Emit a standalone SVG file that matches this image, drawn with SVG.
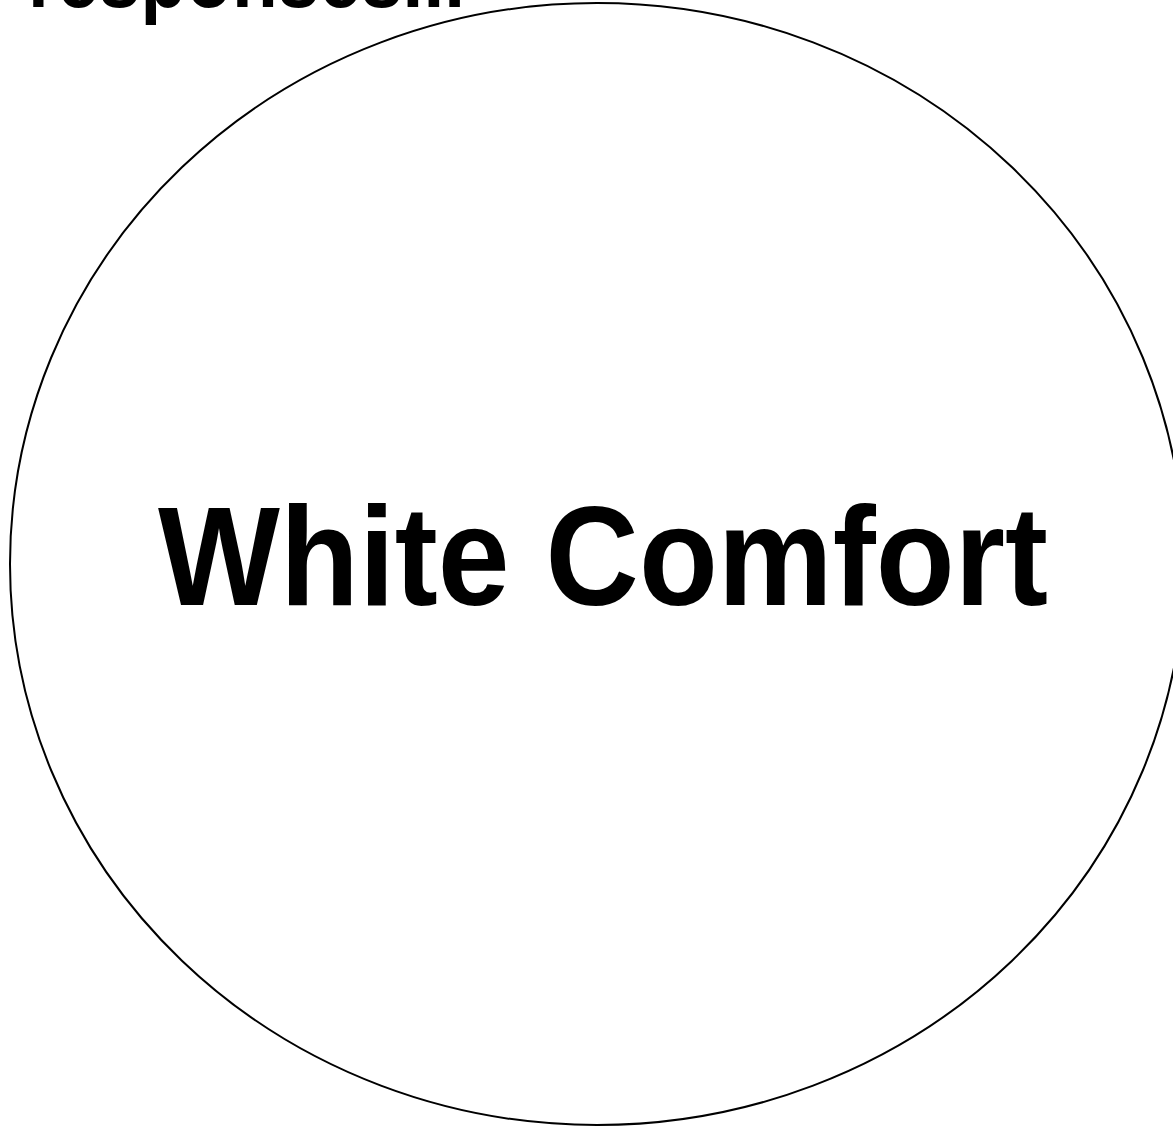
<svg xmlns="http://www.w3.org/2000/svg" width="1173" height="1128" viewBox="0 0 1173 1128">
<style>
.t{font-family:"Liberation Sans","DejaVu Sans",sans-serif;font-weight:bold;fill:#000}
</style>
<rect width="1173" height="1128" fill="#fff"/>
<g id="header">
<text class="t" x="28" y="7" font-size="85" textLength="437" lengthAdjust="spacingAndGlyphs">responses...</text>
</g>
<g id="node-white-comfort">
<ellipse cx="597" cy="564" rx="587" ry="561" fill="none" stroke="#000" stroke-width="2"/>
<text class="t" x="158" y="605" font-size="141" textLength="890" lengthAdjust="spacingAndGlyphs">White Comfort</text>
</g>
<g id="connectors"></g>
</svg>
